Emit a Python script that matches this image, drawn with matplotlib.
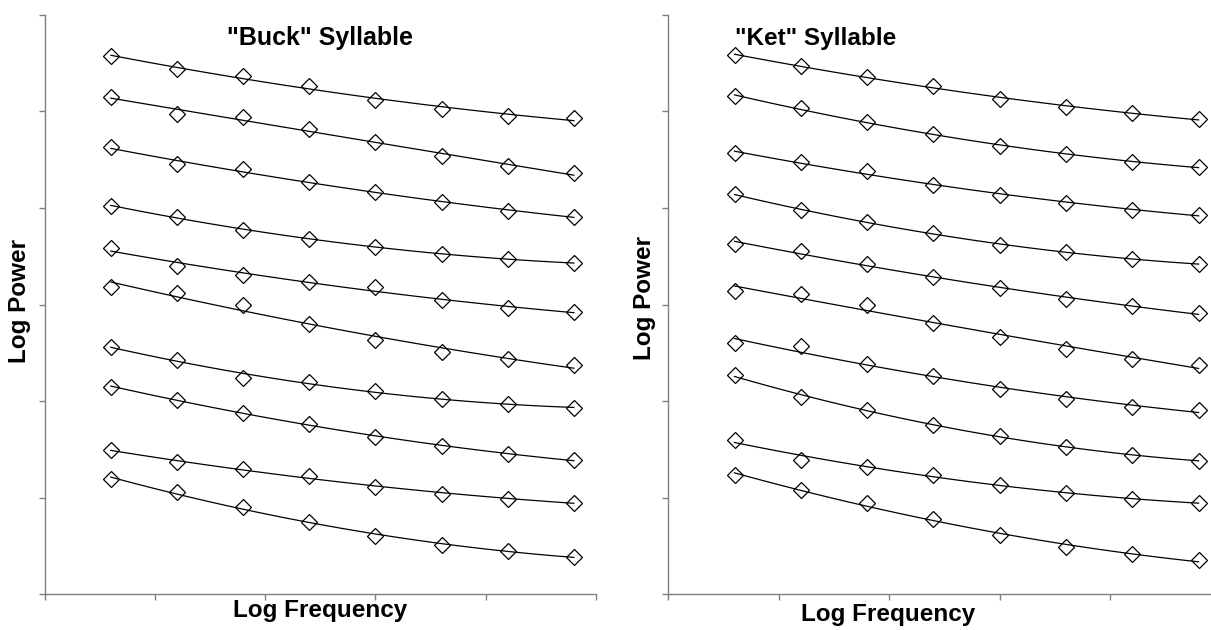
import numpy as np
import matplotlib.pyplot as plt

# log frequency positions of the 8 bands (same for both syllables)
freq = [0.6, 1.2, 1.8, 2.4, 3.0, 3.6, 4.2, 4.8]

# log power per series, top to bottom
buck = [
    [5.57, 5.44, 5.37, 5.26, 5.12, 5.02, 4.95, 4.93],
    [5.15, 4.97, 4.94, 4.82, 4.68, 4.54, 4.43, 4.36],
    [4.63, 4.45, 4.40, 4.27, 4.16, 4.06, 3.97, 3.91],
    [4.02, 3.91, 3.77, 3.68, 3.60, 3.52, 3.47, 3.43],
    [3.58, 3.40, 3.31, 3.23, 3.18, 3.05, 2.96, 2.92],
    [3.18, 3.12, 3.00, 2.80, 2.63, 2.51, 2.44, 2.37],
    [2.56, 2.43, 2.24, 2.20, 2.10, 2.02, 1.97, 1.93],
    [2.15, 2.01, 1.88, 1.76, 1.63, 1.54, 1.45, 1.39],
    [1.49, 1.37, 1.30, 1.22, 1.11, 1.04, 0.99, 0.95],
    [1.19, 1.06, 0.90, 0.75, 0.60, 0.51, 0.45, 0.39],
]
ket = [
    [5.58, 5.47, 5.36, 5.26, 5.13, 5.04, 4.98, 4.92],
    [5.16, 5.03, 4.89, 4.76, 4.64, 4.56, 4.48, 4.42],
    [4.57, 4.47, 4.38, 4.24, 4.13, 4.05, 3.98, 3.93],
    [4.14, 3.98, 3.85, 3.74, 3.62, 3.54, 3.47, 3.42],
    [3.63, 3.55, 3.42, 3.28, 3.17, 3.06, 2.98, 2.91],
    [3.14, 3.11, 2.99, 2.81, 2.66, 2.54, 2.44, 2.37],
    [2.60, 2.57, 2.38, 2.26, 2.13, 2.02, 1.94, 1.91],
    [2.27, 2.04, 1.91, 1.75, 1.64, 1.53, 1.44, 1.38],
    [1.60, 1.39, 1.32, 1.24, 1.13, 1.05, 0.99, 0.94],
    [1.24, 1.08, 0.94, 0.78, 0.61, 0.49, 0.42, 0.35],
]

W, H = 1211, 630
grey = '#808080'
font = 'Liberation Sans'


def draw(ax, rows):
    for row in rows:
        ax.plot(freq, row, ls='none', marker='D', ms=8.5, mfc='none',
                mec='black', mew=0.9)
        # quadratic trendline through each series
        c = np.polyfit(freq, row, 2)
        xs = np.linspace(freq[0], freq[-1], 100)
        ax.plot(xs, np.polyval(c, xs), color='black', lw=0.9)
    ax.set_xlim(0, 5)
    ax.set_ylim(0, 6)
    ax.set_xticks(range(6))
    ax.set_yticks(range(7))
    ax.set_xticklabels([])
    ax.set_yticklabels([])
    for s in ['top', 'right']:
        ax.spines[s].set_visible(False)
    for s in ['left', 'bottom']:
        ax.spines[s].set_color(grey)
        ax.spines[s].set_linewidth(1.0)
    ax.tick_params(color=grey, length=4, width=1.0)


fig = plt.figure(figsize=(W / 100, H / 100), dpi=100)
ax1 = fig.add_axes([44.7 / W, 1 - 594.3 / H, 551.2 / W, 579.6 / H])
ax2 = fig.add_axes([668.2 / W, 1 - 594.3 / H, 552.5 / W, 579.6 / H])
draw(ax1, buck)
draw(ax2, ket)


def label(x, y, s, rot=0, size=17.5):
    fig.text(x / W, 1 - y / H, s, ha='center', va='center', rotation=rot,
             fontsize=size, fontweight='bold', family=font)


label(320, 38, '"Buck" Syllable', size=18)
label(816, 38, '"Ket" Syllable')
label(320, 611, 'Log Frequency')
label(888, 614, 'Log Frequency')
label(20, 301, 'Log Power', 90)
label(645, 298, 'Log Power', 90)

fig.savefig('out.png', dpi=100)
